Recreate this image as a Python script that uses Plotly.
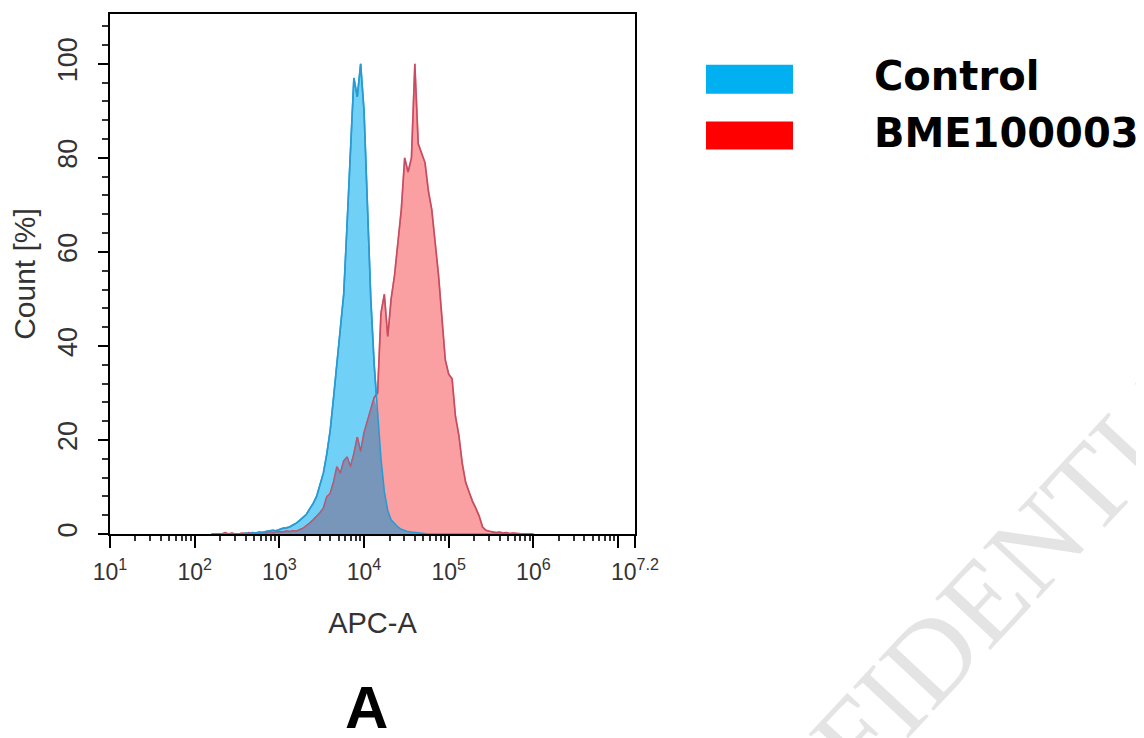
import plotly.graph_objects as go

# ---------------- data ----------------
# histogram bin centres, as log10(APC-A)
log_bins = [2.20, 2.24, 2.28, 2.32, 2.36, 2.40, 2.44, 2.48, 2.52, 2.56,
            2.60, 2.64, 2.68, 2.72, 2.76, 2.80, 2.84, 2.88, 2.92, 2.96,
            3.00, 3.04, 3.08, 3.12, 3.16, 3.20, 3.24, 3.28, 3.32, 3.36,
            3.40, 3.44, 3.48, 3.52, 3.56, 3.60, 3.64, 3.68, 3.72, 3.76,
            3.80, 3.84, 3.88, 3.92, 3.96, 4.00, 4.04, 4.08, 4.12, 4.16,
            4.20, 4.24, 4.28, 4.32, 4.36, 4.40, 4.44, 4.48, 4.52, 4.56,
            4.60, 4.64, 4.68, 4.72, 4.76, 4.80, 4.84, 4.88, 4.92, 4.96,
            5.00, 5.04, 5.08, 5.12, 5.16, 5.20, 5.24, 5.28, 5.32, 5.36,
            5.40, 5.44, 5.48, 5.52, 5.56, 5.60, 5.64, 5.68, 5.72, 5.76,
            5.80, 5.84, 5.88, 5.92, 5.96, 6.00]

control = [0, 0, 0, 0, 0, 0, 0, 0, 0, 0,
           0.2, 0, 0.3, 0.2, 0.4, 0.3, 0.5, 0.6, 0.8, 0.7,
           1.0, 1.2, 1.3, 1.5, 1.9, 2.3, 2.9, 3.5, 4.2, 5.4,
           6.5, 8.0, 10.5, 13, 17, 22, 29, 36, 44, 51,
           66, 82, 97, 93, 100, 90, 68, 50, 36, 26,
           16, 9, 5, 3, 2.2, 1.5, 1.0, 0.7, 0.5, 0.4,
           0.3, 0.2, 0.2, 0.1, 0, 0, 0, 0, 0, 0,
           0, 0, 0, 0, 0, 0, 0, 0, 0, 0,
           0, 0, 0, 0, 0, 0, 0, 0, 0, 0,
           0, 0, 0, 0, 0, 0]

bme100003 = [0, 0, 0, 0, 0.3, 0, 0.2, 0, 0, 0.2,
             0, 0.3, 0, 0.2, 0.2, 0.3, 0.2, 0.4, 0.3, 0.4,
             0.5, 0.4, 0.6, 0.5, 0.7, 0.6, 0.9, 1.2, 1.8, 2.3,
             3.0, 3.7, 4.5, 5.5, 7.9, 8.6, 11, 14.3, 12.9, 15.5,
             16.4, 14.3, 17, 20.6, 17.5, 21.5, 24, 27, 29, 30,
             47, 51, 42, 50, 55, 62, 69, 80, 77, 80,
             100, 83, 81, 79, 73, 69, 62, 55, 46, 37,
             34, 33, 25, 21, 15, 11, 9, 7, 5.5, 3.8,
             1.5, 0.8, 0.6, 0.5, 0.3, 0.4, 0.2, 0.3, 0.1, 0.2,
             0.1, 0, 0, 0, 0, 0]

series_names = ["Control", "BME100003"]
x_tick_exponents = [1, 2, 3, 4, 5, 6, 7, 7.2]
x_tick_labels = ["10<sup>1</sup>", "10<sup>2</sup>", "10<sup>3</sup>", "10<sup>4</sup>",
                 "10<sup>5</sup>", "10<sup>6</sup>", " ", "10<sup>7.2</sup>"]
y_tick_values = [0, 20, 40, 60, 80, 100]

# ---------------- derived ----------------
apc_a = [10 ** v for v in log_bins]
overlap = [min(c, b) for c, b in zip(control, bme100003)]

# ---------------- geometry (page pixels; the page body adds an 8px offset) ----------------
OFF = 8
W, H = 1144 - OFF, 738 - OFF
L, R, T, B = 110, 635, 12, 534          # plot area in page pixels


def px(xp):
    return (xp - L) / (R - L)


def py(yp):
    return (B - yp) / (B - T)


SANS = "Liberation Sans, Arial, sans-serif"

fig = go.Figure()

fig.add_trace(go.Scatter(x=apc_a, y=control, name=series_names[0], mode="lines",
                         line=dict(color="#28a0d7", width=1.6),
                         fill="tozeroy", fillcolor="#70d0f5"))
fig.add_trace(go.Scatter(x=apc_a, y=bme100003, name=series_names[1], mode="lines",
                         line=dict(color="#e6464b", width=1.6),
                         fill="tozeroy", fillcolor="#faa0a2"))
fig.add_trace(go.Scatter(x=apc_a, y=overlap, name="overlap", mode="lines",
                         line=dict(color="rgba(0,0,0,0)", width=0),
                         fill="tozeroy", fillcolor="#7896b9"))
fig.add_trace(go.Scatter(x=apc_a, y=bme100003, mode="lines",
                         line=dict(color="rgba(170,80,120,0.5)", width=1.6)))
fig.add_trace(go.Scatter(x=apc_a, y=control, mode="lines",
                         line=dict(color="#2a9ad2", width=1.6)))

fig.update_layout(
    width=W, height=H, autosize=False,
    margin=dict(l=L - OFF, r=W - (R - OFF), t=T - OFF, b=H - (B - OFF), pad=0),
    paper_bgcolor="white", plot_bgcolor="white",
    showlegend=False,
    font=dict(family=SANS, color="#222"),
)

fig.update_xaxes(
    type="log", range=[1, 7.2],
    tickmode="array",
    tickvals=[10 ** e for e in x_tick_exponents],
    ticktext=x_tick_labels,
    tickangle=0,
    ticks="outside", ticklen=12, tickwidth=2, tickcolor="black",
    tickfont=dict(family=SANS, size=23, color="#333"),
    ticklabelstandoff=4,
    showline=True, linecolor="black", linewidth=2, mirror=True,
    showgrid=False, zeroline=False,
    minor=dict(ticks="outside", ticklen=5, tickwidth=1.5, tickcolor="#333",
               dtick="D1", showgrid=False),
    title=dict(text="APC-A", font=dict(family=SANS, size=29, color="#333"), standoff=29),
)

fig.update_yaxes(
    range=[0, 110.6],
    tickmode="array", tickvals=y_tick_values,
    tickangle=-90,
    ticks="outside", ticklen=10, tickwidth=2, tickcolor="black",
    tickfont=dict(family=SANS, size=27, color="#333"),
    ticklabelstandoff=10,
    showline=True, linecolor="black", linewidth=2, mirror=True,
    showgrid=False, zeroline=False,
    minor=dict(ticks="outside", ticklen=6, tickwidth=1.5, tickcolor="#333",
               dtick=4, tick0=0, showgrid=False),
    title=dict(text="Count [%]", font=dict(family=SANS, size=30, color="#333"), standoff=12),
)

# legend swatches and labels
legend_colors = ["#00b0f0", "#ff0000"]
legend_rows = [(63, 92), (120, 148)]
for (y0, y1), col, name in zip(legend_rows, legend_colors, series_names):
    fig.add_shape(type="rect", xref="paper", yref="paper",
                  x0=px(706), x1=px(793), y0=py(y1), y1=py(y0),
                  fillcolor=col, line=dict(width=0))
    fig.add_annotation(xref="paper", yref="paper", x=px(872), y=py((y0 + y1) / 2 - 3),
                       xanchor="left", yanchor="middle", showarrow=False,
                       text="<b>%s</b>" % name,
                       font=dict(family="DejaVu Sans", size=40, color="black"))

# panel label
fig.add_annotation(xref="paper", yref="paper", x=px(366), y=py(708),
                   xanchor="center", yanchor="middle", showarrow=False,
                   text="<b>A</b>", font=dict(family=SANS, size=60, color="black"))

# watermark
fig.add_annotation(xref="paper", yref="paper", x=px(955), y=py(632),
                   xanchor="center", yanchor="middle", showarrow=False,
                   text="CONFIDENTIAL", textangle=-47,
                   font=dict(family="Liberation Serif, serif", size=115, color="#e4e4e4"))

fig.write_html("out.html")
